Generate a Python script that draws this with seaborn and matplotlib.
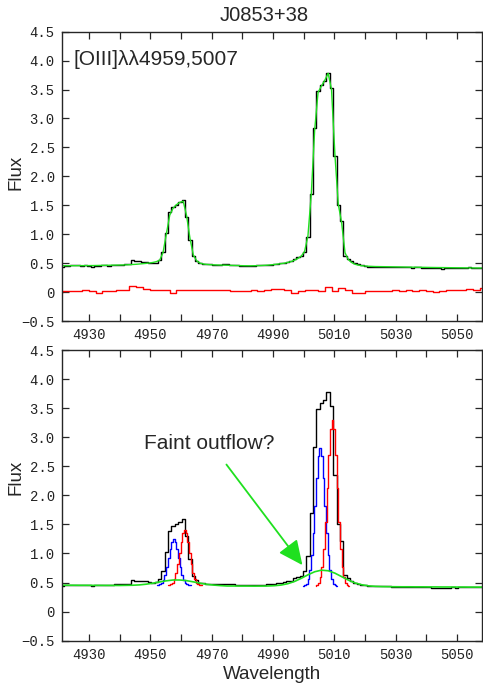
import numpy as np
import pandas as pd
import matplotlib
matplotlib.use("Agg")
import matplotlib.pyplot as plt
from matplotlib.ticker import FixedLocator, FixedFormatter
import seaborn as sns

# ---------------- data ----------------
title = "J0853+38"
line_label = "[OIII]λλ4959,5007"
annot_text = "Faint outflow?"
x_label = "Wavelength"
y_label = "Flux"

x_ticks = [4930, 4940, 4950, 4960, 4970, 4980, 4990, 5000, 5010, 5020, 5030, 5040, 5050]
x_ticklabels = ["4930", "", "4950", "", "4970", "", "4990", "", "5010", "", "5030", "", "5050"]
y_ticks = [-0.5, 0.0, 0.5, 1.0, 1.5, 2.0, 2.5, 3.0, 3.5, 4.0, 4.5]
y_ticklabels = ["−0.5", "0", "0.5", "1.0", "1.5", "2.0", "2.5", "3.0", "3.5", "4.0", "4.5"]

# observed spectrum (pixel grid)
wave_start = 4920.0
wave_step = 1.1
flux = [0.43, 0.44, 0.45, 0.45, 0.46, 0.46, 0.46, 0.45, 0.46, 0.45, 0.44, 0.45, 0.45, 0.46, 0.46, 0.45,
        0.46, 0.47, 0.47, 0.47, 0.48, 0.48,
        0.55, 0.53, 0.53, 0.52, 0.52, 0.51, 0.50, 0.51,
        0.56, 0.70, 1.02, 1.38, 1.47, 1.51, 1.55, 1.59, 1.30, 0.90, 0.62, 0.54, 0.50, 0.49,
        0.48, 0.48, 0.47, 0.47, 0.47, 0.48, 0.48, 0.47, 0.47, 0.46, 0.45, 0.45, 0.45, 0.45, 0.45, 0.46,
        0.46, 0.46, 0.47, 0.47, 0.48, 0.49, 0.50, 0.51, 0.52, 0.53,
        0.58, 0.60, 0.62, 0.70, 0.95, 1.70, 2.83, 3.48, 3.58, 3.64, 3.78, 3.53, 2.35, 1.50, 1.22, 0.63,
        0.57, 0.53, 0.50, 0.48, 0.46,
        0.45, 0.44, 0.44, 0.44, 0.44, 0.44, 0.44, 0.44, 0.43, 0.43,
        0.43, 0.43, 0.43, 0.43, 0.42, 0.43, 0.43, 0.42, 0.42, 0.42, 0.41, 0.41, 0.41, 0.40, 0.41, 0.41,
        0.42, 0.41, 0.42, 0.42, 0.42, 0.43, 0.42, 0.42, 0.42, 0.44, 0.44]

# total fit (same pixel grid)
fit_total = [0.455, 0.455, 0.455, 0.456, 0.456, 0.456, 0.457, 0.457, 0.457, 0.458, 0.458, 0.459, 0.459,
             0.460, 0.461, 0.462, 0.463, 0.464, 0.466, 0.468, 0.470, 0.473,
             0.476, 0.480, 0.485, 0.490, 0.496, 0.503, 0.512, 0.525,
             0.55, 0.68, 1.00, 1.33, 1.45, 1.51, 1.55, 1.57, 1.32, 0.93, 0.64, 0.54, 0.50, 0.485,
             0.478, 0.473, 0.470, 0.468, 0.466, 0.465, 0.464, 0.462, 0.460, 0.458, 0.456, 0.455, 0.454,
             0.454, 0.455, 0.456, 0.458, 0.461, 0.465, 0.470, 0.476, 0.483, 0.491, 0.500, 0.512, 0.527,
             0.55, 0.58, 0.62, 0.70, 0.97, 1.70, 2.80, 3.45, 3.56, 3.66, 3.78, 3.50, 2.38, 1.52, 1.20,
             0.68, 0.56, 0.51, 0.48, 0.465, 0.455,
             0.450, 0.446, 0.443, 0.441, 0.440, 0.438, 0.437, 0.436, 0.435, 0.434,
             0.433, 0.432, 0.431, 0.430, 0.430, 0.429, 0.428, 0.427, 0.427, 0.426, 0.425, 0.424, 0.424,
             0.423, 0.422, 0.422, 0.421, 0.420, 0.420, 0.419, 0.418, 0.418, 0.417, 0.416, 0.416, 0.415, 0.414]

# residuals (coarser grid)
resid_start = 4920.0
resid_step = 2.2
residual = [-0.01, 0.01, 0.02, 0.02, 0.03, 0.02, -0.01, 0.02, 0.02, 0.03, 0.03, 0.11, 0.08, 0.06, 0.04,
            0.04, 0.03, -0.01, 0.03, 0.04, 0.03, 0.04, 0.03, 0.03, 0.04, 0.03, 0.01, 0.02, 0.02, 0.03,
            0.02, 0.04, 0.06, 0.05, 0.04, -0.01, 0.02, 0.03, 0.03, 0.02, 0.08, 0.01, 0.07, 0.03, -0.01,
            -0.01, 0.01, 0.02, 0.02, 0.02, 0.03, 0.02, 0.03, 0.02, 0.03, 0.02, 0.00, 0.01, 0.03, 0.03,
            0.04, 0.06, 0.03, 0.07, 0.07]

# broad (outflow) component + continuum
broad_start = 4920.0
broad_step = 2.2
broad = [0.455, 0.454, 0.454, 0.453, 0.453, 0.452, 0.452, 0.451, 0.451, 0.450, 0.452, 0.454, 0.460,
         0.472, 0.489, 0.511, 0.530, 0.544, 0.544, 0.533, 0.512, 0.490, 0.470, 0.457, 0.448, 0.441,
         0.441, 0.440, 0.440, 0.439, 0.440, 0.441, 0.446, 0.457, 0.480, 0.518, 0.572, 0.633, 0.686,
         0.713, 0.703, 0.662, 0.602, 0.542, 0.493, 0.462, 0.443, 0.435, 0.431, 0.429, 0.428, 0.427,
         0.427, 0.426, 0.426, 0.425, 0.425, 0.424, 0.424, 0.423, 0.423, 0.422, 0.422, 0.421, 0.420]

# narrow components (local fine grids)
comp_step = 0.55
blue_4959_start = 4952.1
blue_4959 = [0.45, 0.46, 0.47, 0.49, 0.55, 0.63, 0.76, 0.92, 1.08, 1.20, 1.25, 1.20, 1.08, 0.92, 0.76,
             0.63, 0.55, 0.49, 0.47, 0.46, 0.45]
red_4959_start = 4955.7
red_4959 = [0.45, 0.46, 0.47, 0.50, 0.56, 0.67, 0.82, 1.01, 1.20, 1.35, 1.40, 1.35, 1.20, 1.01, 0.82,
            0.67, 0.56, 0.50, 0.47, 0.46, 0.45]
blue_5007_start = 4999.9
blue_5007 = [0.44, 0.45, 0.48, 0.56, 0.71, 0.97, 1.35, 1.82, 2.30, 2.68, 2.82, 2.68, 2.30, 1.82, 1.35,
             0.97, 0.71, 0.56, 0.48, 0.45, 0.44]
red_5007_start = 5003.9
red_5007 = [0.44, 0.45, 0.50, 0.59, 0.77, 1.08, 1.55, 2.12, 2.70, 3.14, 3.30, 3.14, 2.70, 2.12, 1.55,
            1.08, 0.77, 0.59, 0.50, 0.45, 0.44]

# annotation arrow (data coords of bottom panel)
arrow_from = (4974.8, 2.53)
arrow_to = (4999.6, 0.80)


def grid(start, step, vals):
    return start + step * np.arange(len(vals))


# ---------------- plotting ----------------
sns.set_style("ticks")
plt.rcParams["font.family"] = ["Liberation Sans", "DejaVu Sans"]

GREEN = "#1fe01f"
fig = plt.figure(figsize=(4.83, 6.84), dpi=100)
ax1 = fig.add_axes([0.1275, 0.5307, 0.871, 0.4230])
ax2 = fig.add_axes([0.1275, 0.0633, 0.871, 0.4250])

wave = grid(wave_start, wave_step, flux)
spec = pd.DataFrame({"wave": wave, "flux": flux, "fit": fit_total})
res = pd.DataFrame({"wave": grid(resid_start, resid_step, residual), "res": residual})
brd = pd.DataFrame({"wave": grid(broad_start, broad_step, broad), "val": broad})

# top panel
sns.lineplot(data=spec, x="wave", y="flux", ax=ax1, color="black", lw=1.0,
             drawstyle="steps-mid", estimator=None, sort=False, legend=False)
sns.lineplot(data=spec, x="wave", y="fit", ax=ax1, color=GREEN, lw=1.0,
             estimator=None, sort=False, legend=False)
sns.lineplot(data=res, x="wave", y="res", ax=ax1, color="red", lw=1.0,
             drawstyle="steps-mid", estimator=None, sort=False, legend=False)

# bottom panel
sns.lineplot(data=spec, x="wave", y="flux", ax=ax2, color="black", lw=1.0,
             drawstyle="steps-mid", estimator=None, sort=False, legend=False)
for start, vals, col in [(blue_4959_start, blue_4959, "blue"), (red_4959_start, red_4959, "red"),
                         (blue_5007_start, blue_5007, "blue"), (red_5007_start, red_5007, "red")]:
    d = pd.DataFrame({"wave": grid(start, comp_step, vals), "val": vals})
    sns.lineplot(data=d, x="wave", y="val", ax=ax2, color=col, lw=1.0,
                 drawstyle="steps-mid", estimator=None, sort=False, legend=False)
sns.lineplot(data=brd, x="wave", y="val", ax=ax2, color=GREEN, lw=1.2,
             estimator=None, sort=False, legend=False)

ax2.annotate("", xy=arrow_to, xytext=arrow_from,
             arrowprops=dict(arrowstyle="-|>,head_length=1.5,head_width=0.7", color=GREEN,
                             lw=1.3, shrinkA=0, shrinkB=0))
ax2.text(4948.0, 2.90, annot_text, fontsize=15, va="center", ha="left")

ax1.text(4925.0, 4.02, line_label, fontsize=15, va="center", ha="left")
fig.text(0.548, 0.978, title, fontsize=14.5, ha="center", va="center")

for ax in (ax1, ax2):
    ax.set_xlim(4921.0, 5058.3)
    ax.set_ylim(-0.5, 4.5)
    ax.xaxis.set_major_locator(FixedLocator(x_ticks))
    ax.xaxis.set_major_formatter(FixedFormatter(x_ticklabels))
    ax.yaxis.set_major_locator(FixedLocator(y_ticks))
    ax.yaxis.set_major_formatter(FixedFormatter(y_ticklabels))
    ax.tick_params(axis="both", direction="in", top=True, right=True, length=5, width=0.9,
                   pad=5, labelsize=10)
    for lab in ax.get_xticklabels() + ax.get_yticklabels():
        lab.set_family(["Liberation Mono", "DejaVu Sans Mono"])
        lab.set_color("#222222")
    for sp in ax.spines.values():
        sp.set_linewidth(1.0)
        sp.set_visible(True)
    ax.set_ylabel(y_label, fontsize=13.5)
    ax.set_xlabel("")
    ax.grid(False)

ax1.yaxis.set_label_coords(-0.089, 0.515)
ax2.yaxis.set_label_coords(-0.089, 0.563)
ax2.set_xlabel(x_label, fontsize=13.5, labelpad=3)

fig.savefig("out.png", dpi=100)
